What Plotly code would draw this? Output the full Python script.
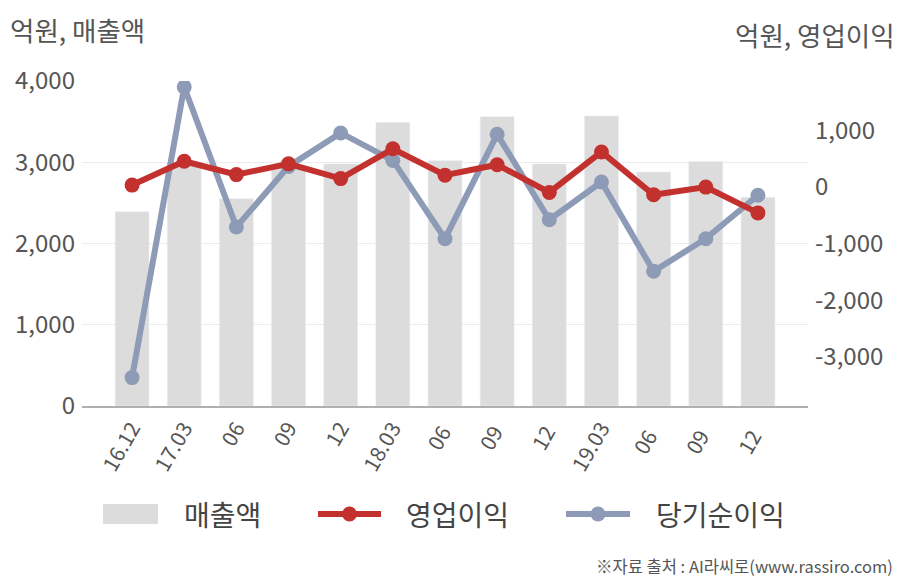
import plotly.graph_objects as go

categories = ["16.12", "17.03", "06", "09", "12", "18.03", "06 ", "09 ", "12 ", "19.03", "06  ", "09  ", "12  "]
sales = [2390, 2990, 2550, 2960, 2980, 3490, 3020, 3560, 2980, 3570, 2880, 3010, 2570]
op_income = [30, 450, 215, 405, 145, 670, 205, 390, -100, 615, -140, -5, -460]
net_income = [-3365, 1760, -710, 360, 950, 465, -915, 925, -580, 85, -1490, -915, -150]

left_ticks = [0, 1000, 2000, 3000, 4000]
right_ticks = [-3000, -2000, -1000, 0, 1000]
right_labels = ["-3,000", "-2,000", "-1,000", "0", "1,000"]

FONT = "Noto Sans CJK KR"
GRAY_TXT = "#555555"
RED = "#c3312f"
BLUE = "#8e9bb6"
BAR = "#dcdcdc"

# plot area geometry (pixels) used for placing the manual legend
PL, PR, PT, PB = 82, 808, 81, 406
def px(x):
    return (x - PL) / (PR - PL)
def py(y):
    return (PB - y) / (PB - PT)

fig = go.Figure()
fig.add_trace(go.Bar(x=categories, y=sales, name="매출액", marker_color=BAR,
                     width=0.65, showlegend=False))
fig.add_trace(go.Scatter(x=categories, y=net_income, name="당기순이익", yaxis="y2",
                         mode="lines+markers", line=dict(color=BLUE, width=6),
                         marker=dict(size=15, color=BLUE), showlegend=False))
fig.add_trace(go.Scatter(x=categories, y=op_income, name="영업이익", yaxis="y2",
                         mode="lines+markers", line=dict(color=RED, width=6),
                         marker=dict(size=15, color=RED), showlegend=False))

fig.update_layout(
    width=908, height=580,
    margin=dict(l=PL, r=908 - PR, t=PT, b=580 - PB),
    plot_bgcolor="white", paper_bgcolor="white",
    font=dict(family=FONT, color=GRAY_TXT),
    showlegend=False,
    xaxis=dict(type="category", range=[-0.96, 12.96], tickangle=-60,
               tickfont=dict(size=21, color=GRAY_TXT), showline=True,
               linecolor="#b0b0b0", linewidth=1.5, showgrid=False, ticks=""),
    yaxis=dict(range=[0, 4000], tickvals=left_ticks,
               tickformat=",d", tickfont=dict(size=24, color=GRAY_TXT),
               showgrid=True, gridcolor="#ececec", gridwidth=1, zeroline=False,
               ticks="", ticklabelstandoff=6),
    yaxis2=dict(overlaying="y", side="right", range=[-3866, 1866],
                tickvals=right_ticks, ticktext=right_labels,
                tickfont=dict(size=24, color=GRAY_TXT), showgrid=False,
                zeroline=False, ticks="", ticklabelstandoff=6),
)

# manual legend
legend_y = py(514)
fig.add_shape(type="rect", xref="paper", yref="paper", x0=px(103), x1=px(158),
              y0=py(524), y1=py(504), fillcolor=BAR, line_width=0)
for color, xa, xb in [(RED, 318, 381), (BLUE, 566, 630)]:
    fig.add_shape(type="line", xref="paper", yref="paper", x0=px(xa), x1=px(xb),
                  y0=legend_y, y1=legend_y, line=dict(color=color, width=6))
    xm = (xa + xb) / 2
    fig.add_shape(type="circle", xref="paper", yref="paper", x0=px(xm - 7.5), x1=px(xm + 7.5),
                  y0=py(514 + 7.5), y1=py(514 - 7.5), fillcolor=color, line_width=0)
for text, xl in [("매출액", 182), ("영업이익", 404), ("당기순이익", 654)]:
    fig.add_annotation(text=text, xref="paper", yref="paper", x=px(xl), y=legend_y,
                       xanchor="left", yanchor="middle", showarrow=False,
                       font=dict(size=28, color="#444444"))

fig.add_annotation(text="억원, 매출액", xref="paper", yref="paper", x=px(8), y=py(30),
                   xanchor="left", yanchor="middle", showarrow=False,
                   font=dict(size=26.5, color=GRAY_TXT))
fig.add_annotation(text="억원, 영업이익", xref="paper", yref="paper", x=px(897), y=py(35),
                   xanchor="right", yanchor="middle", showarrow=False,
                   font=dict(size=26.5, color=GRAY_TXT))
fig.add_annotation(text="※자료 출처 : AI라씨로(www.rassiro.com)", xref="paper", yref="paper",
                   x=px(895), y=py(566), xanchor="right", yanchor="middle", showarrow=False,
                   font=dict(size=16.5, color=GRAY_TXT))

fig.write_html("out.html")
